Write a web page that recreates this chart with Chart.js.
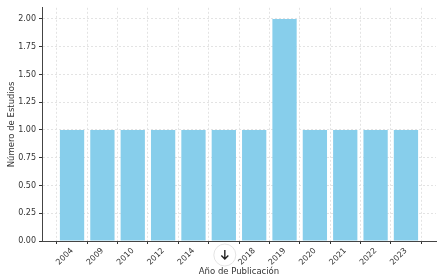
<!DOCTYPE html>
<html>
<head>
<meta charset="utf-8">
<script src="https://cdn.jsdelivr.net/npm/chart.js@4"></script>
<style>
  html, body { margin: 0; padding: 0; background: #fff; }
  #wrap { position: relative; width: 441px; height: 280px; }
</style>
</head>
<body>
<div id="wrap"><canvas id="chart" width="441" height="280"></canvas></div>
<script>
// años y número de estudios
const years = ["2004", "2009", "2010", "2012", "2014", "2016", "2018", "2019", "2020", "2021", "2022", "2023"];
const counts = [1, 1, 1, 1, 1, 1, 1, 2, 1, 1, 1, 1];
const yTicks = [0, 0.25, 0.5, 0.75, 1, 1.25, 1.5, 1.75, 2];
const hiddenLabel = 5; // tapado por el botón de flecha

const points = years.map((y, i) => ({x: i, y: counts[i]}));

// boton circular con flecha encima de la etiqueta
const arrowButton = {
    id: "arrowButton",
    afterDraw(chart) {
        const ctx = chart.ctx;
        const cx = chart.scales.x.getPixelForValue(hiddenLabel) + 1;
        const cy = 255;
        ctx.save();
        ctx.beginPath();
        ctx.arc(cx, cy, 11, 0, Math.PI * 2);
        ctx.fillStyle = "#ffffff";
        ctx.fill();
        ctx.strokeStyle = "#e4e4e4";
        ctx.lineWidth = 1;
        ctx.stroke();
        ctx.strokeStyle = "#222";
        ctx.lineWidth = 1.4;
        ctx.beginPath();
        ctx.moveTo(cx, cy - 5);
        ctx.lineTo(cx, cy + 4);
        ctx.moveTo(cx - 3.5, cy + 0.5);
        ctx.lineTo(cx, cy + 4);
        ctx.lineTo(cx + 3.5, cy + 0.5);
        ctx.stroke();
        ctx.restore();
    }
};

const tickFont = {family: "'DejaVu Sans', sans-serif", size: 8};
const titleFont = {family: "'DejaVu Sans', sans-serif", size: 8.5};

new Chart(document.getElementById("chart"), {
    type: "bar",
    data: {
        datasets: [{
            data: points,
            backgroundColor: "#87ceeb",
            borderWidth: 0,
            barPercentage: 0.8,
            categoryPercentage: 1
        }]
    },
    options: {
        responsive: false,
        animation: false,
        layout: {padding: {top: 7, right: 5, left: 0, bottom: 0}},
        plugins: {legend: {display: false}, tooltip: {enabled: false}},
        scales: {
            x: {
                type: "linear",
                offset: false,
                min: -0.99,
                max: 11.99,
                afterBuildTicks: (axis) => {
                    axis.ticks = years.map((y, i) => ({value: i}));
                },
                afterFit: (axis) => { axis.height = 39; },
                ticks: {
                    autoSkip: false,
                    minRotation: 45,
                    maxRotation: 45,
                    padding: 2,
                    color: "#333",
                    font: tickFont,
                    callback: (v) => (v === hiddenLabel ? "" : years[v])
                },
                grid: {
                    color: "#e3e3e3",
                    tickColor: "#333",
                    tickLength: 3,
                    tickBorderDash: []
                },
                border: {display: true, color: "#444", width: 1, dash: [2, 2]},
                title: {
                    display: true,
                    text: "Año de Publicación",
                    color: "#333",
                    font: titleFont,
                    padding: {top: 0, bottom: 3}
                }
            },
            y: {
                min: 0,
                max: 2.1,
                afterBuildTicks: (axis) => {
                    axis.ticks = yTicks.map(v => ({value: v}));
                },
                afterFit: (axis) => { axis.width = 42; },
                ticks: {
                    color: "#333",
                    font: tickFont,
                    padding: 3,
                    callback: (v) => v.toFixed(2)
                },
                grid: {
                    color: "#e3e3e3",
                    tickColor: "#333",
                    tickLength: 3,
                    tickBorderDash: []
                },
                border: {display: true, color: "#444", width: 1, dash: [2, 2]},
                title: {
                    display: true,
                    text: "Número de Estudios",
                    color: "#333",
                    font: titleFont,
                    padding: {top: 7, bottom: 0}
                }
            }
        }
    },
    plugins: [arrowButton]
});
</script>
</body>
</html>
